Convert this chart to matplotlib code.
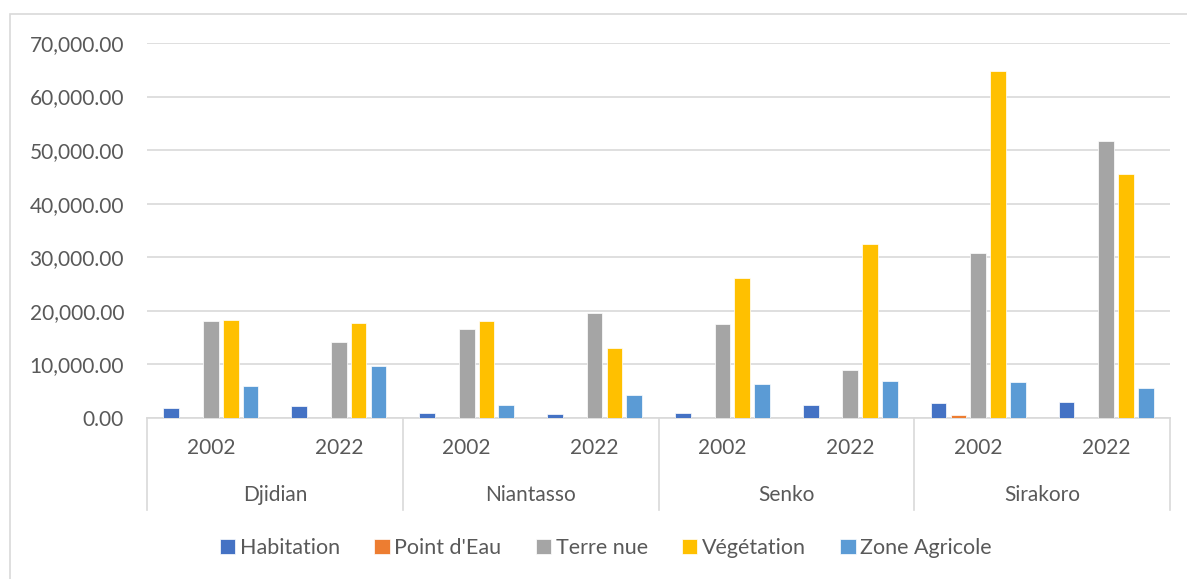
import matplotlib.pyplot as plt
from matplotlib.lines import Line2D
from matplotlib.patches import Rectangle
import numpy as np

# land cover areas per commune and year
communes = ['Djidian', 'Niantasso', 'Senko', 'Sirakoro']
years = ['2002', '2022']
series = ['Habitation', "Point d'Eau", 'Terre nue', 'Végétation', 'Zone Agricole']
colors = ['#4472C4', '#ED7D31', '#A5A5A5', '#FFC000', '#5B9BD5']

# order: Djidian 2002, Djidian 2022, Niantasso 2002, ... Sirakoro 2022
habitation = [1900, 2300, 870, 800, 950, 2340, 2860, 2990]
point_eau = [40, 40, 30, 30, 30, 30, 620, 40]
terre_nue = [18100, 14200, 16550, 19660, 17600, 9000, 30770, 51620]
vegetation = [18240, 17730, 18050, 13070, 26100, 32550, 64820, 45520]
zone_agricole = [5920, 9770, 2370, 4230, 6260, 7000, 6670, 5600]

values = [habitation, point_eau, terre_nue, vegetation, zone_agricole]

plt.rcParams['font.family'] = ['Lato', 'DejaVu Sans']
txt = '#595959'
grid = '#D9D9D9'
fs = 15

W, H = 1187, 579
fig = plt.figure(figsize=(W / 100, H / 100), dpi=100)
ax = fig.add_axes([147 / W, 1 - 418 / H, (1170 - 147) / W, (418 - 43) / H])

# outer chart border
fig.patches.append(Rectangle((10 / W, -0.1), 1.2, 1 - 14 / H + 0.1, transform=fig.transFigure,
                             fill=False, edgecolor=grid, lw=1.2))

x = np.arange(len(habitation))
w = 0.123
step = 0.155
handles = []
for k, (name, vals) in enumerate(zip(series, values)):
    b = ax.bar(x + (k - 2) * step, vals, width=w, color=colors[k], edgecolor='white',
               linewidth=0.5, zorder=3, label=name)
    handles.append(b)

ax.set_xlim(-0.5, len(x) - 0.5)
ax.set_ylim(0, 70000)
ax.set_yticks(np.arange(0, 70001, 10000))
ax.set_yticklabels(['{:,.2f}'.format(v) for v in np.arange(0, 70001, 10000)])
ax.tick_params(axis='y', length=0, labelsize=fs, labelcolor=txt, pad=16.5)
ax.set_xticks([])
ax.grid(axis='y', color=grid, lw=1.2, zorder=0)
for s in ['top', 'right', 'left']:
    ax.spines[s].set_visible(False)
ax.spines['bottom'].set_color(grid)
ax.spines['bottom'].set_linewidth(1.2)

# two-level category axis
ytr = ax.get_xaxis_transform()
for i in range(len(x)):
    ax.text(i, -30 / 375, years[i % 2], transform=ytr, ha='center', va='center',
            fontsize=fs, color=txt)
for g, name in enumerate(communes):
    ax.text(2 * g + 0.5, -77 / 375, name, transform=ytr, ha='center', va='center',
            fontsize=fs, color=txt)
for g in range(len(communes) + 1):
    ax.add_line(Line2D([2 * g - 0.5, 2 * g - 0.5], [0, -92 / 375], transform=ytr,
                       color=grid, lw=1.2, clip_on=False))

fig.legend(handles=handles, loc='center', bbox_to_anchor=(606 / W, 1 - 548 / H), ncol=5,
           frameon=False, fontsize=15.5, labelcolor=txt, handlelength=0.7, handleheight=0.7,
           handletextpad=0.22, columnspacing=1.6)

fig.savefig('out.png', dpi=100)
